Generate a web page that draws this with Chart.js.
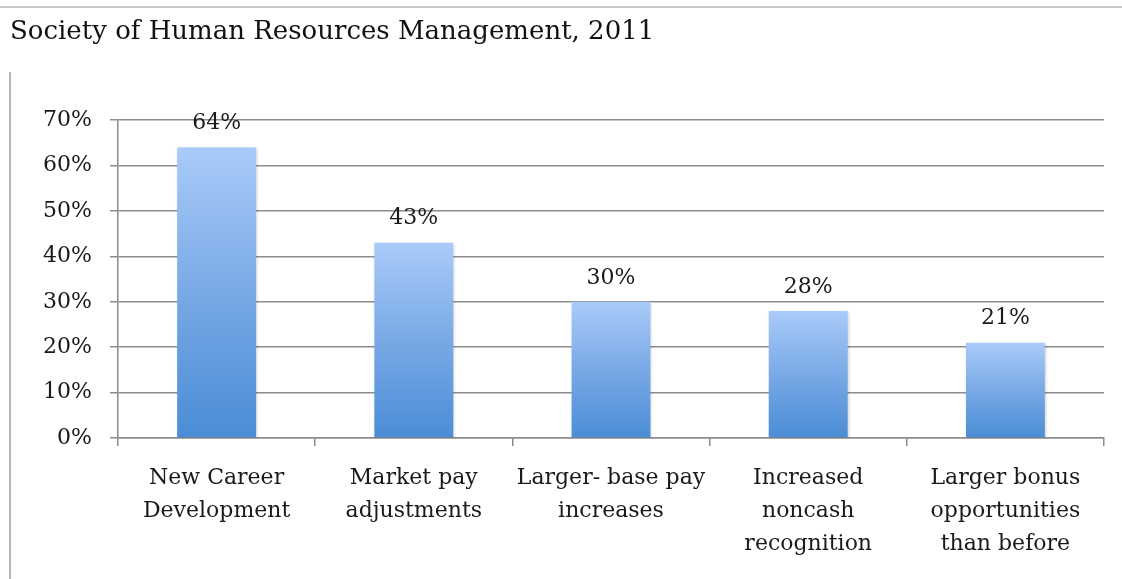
<!DOCTYPE html>
<html>
<head>
<meta charset="utf-8">
<script src="https://cdn.jsdelivr.net/npm/chart.js@4"></script>
<style>
  body { margin: 0; background: #fff; }
  #wrap { position: relative; width: 1122px; height: 579px; }
  .edge { position: absolute; background: #c8c8c8; }
</style>
</head>
<body>
<div id="wrap">
  <canvas id="chart" width="1122" height="579"></canvas>
  <div class="edge" style="left:0; top:6px; width:1122px; height:2px;"></div>
  <div class="edge" style="left:9px; top:72px; width:2px; height:507px; background:#b4b4b4;"></div>
</div>
<script>
// datos
const categories = [
    ['New Career', 'Development'],
    ['Market pay', 'adjustments'],
    ['Larger- base pay', 'increases'],
    ['Increased', 'noncash', 'recognition'],
    ['Larger bonus', 'opportunities', 'than before']
];
const percentValues = [64, 43, 30, 28, 21];
const yTicks = [0, 10, 20, 30, 40, 50, 60, 70];

const serif = "'DejaVu Serif', serif";

// degradado de cada barra, de arriba (claro) a abajo (oscuro)
function barGradient(context) {
    const chart = context.chart;
    if (!chart.chartArea) return '#6fa3e2';
    const y = chart.scales.y;
    const top = y.getPixelForValue(context.raw);
    const bottom = y.getPixelForValue(0);
    const g = chart.ctx.createLinearGradient(0, top, 0, bottom);
    g.addColorStop(0, '#a9cbf9');
    g.addColorStop(0.5, '#79a9e6');
    g.addColorStop(1, '#4a8dd6');
    return g;
}

// etiquetas de valor encima de cada barra
const valueLabels = {
    id: 'valueLabels',
    beforeDatasetsDraw(chart) {
        chart.ctx.save();
        chart.ctx.shadowColor = 'rgba(0,0,0,0.25)';
        chart.ctx.shadowBlur = 3;
        chart.ctx.shadowOffsetX = 1;
        chart.ctx.shadowOffsetY = 1;
    },
    afterDatasetsDraw(chart) {
        const ctx = chart.ctx;
        ctx.restore();
        ctx.save();
        ctx.font = '22px ' + serif;
        ctx.fillStyle = '#1a1a1a';
        ctx.textAlign = 'center';
        ctx.textBaseline = 'middle';
        chart.getDatasetMeta(0).data.forEach((bar, i) => {
            ctx.fillText(percentValues[i] + '%', bar.x, bar.y - 24);
        });
        ctx.restore();
    }
};

new Chart(document.getElementById('chart'), {
    type: 'bar',
    data: {
        labels: categories,
        datasets: [{
            data: percentValues,
            backgroundColor: barGradient,
            categoryPercentage: 0.8,
            barPercentage: 0.5
        }]
    },
    options: {
        responsive: false,
        animation: false,
        layout: { padding: { left: 10, right: 18, top: 0, bottom: 2 } },
        plugins: {
            legend: { display: false },
            tooltip: { enabled: false },
            title: {
                display: true,
                text: 'Society of Human Resources Management, 2011',
                align: 'start',
                color: '#111',
                font: { family: serif, size: 26, weight: 'normal' },
                padding: { top: 17, bottom: 72 }
            }
        },
        scales: {
            x: {
                grid: {
                    drawOnChartArea: false,
                    drawTicks: true,
                    tickLength: 8,
                    color: '#8c8c8c',
                    lineWidth: 1.5
                },
                border: { color: '#8c8c8c', width: 1.5 },
                ticks: {
                    color: '#1a1a1a',
                    padding: 16,
                    maxRotation: 0,
                    font: { family: serif, size: 22, lineHeight: 1.5 }
                }
            },
            y: {
                min: 0,
                max: 70,
                afterFit(scale) { scale.width = 108; },
                afterBuildTicks(scale) { scale.ticks = yTicks.map(v => ({ value: v })); },
                grid: {
                    tickLength: 8,
                    color: '#8c8c8c',
                    lineWidth: 1.5
                },
                border: { color: '#8c8c8c', width: 1.5 },
                ticks: {
                    color: '#1a1a1a',
                    padding: 18,
                    font: { family: serif, size: 22 },
                    callback: v => v + '%'
                }
            }
        }
    },
    plugins: [valueLabels]
});
</script>
</body>
</html>
